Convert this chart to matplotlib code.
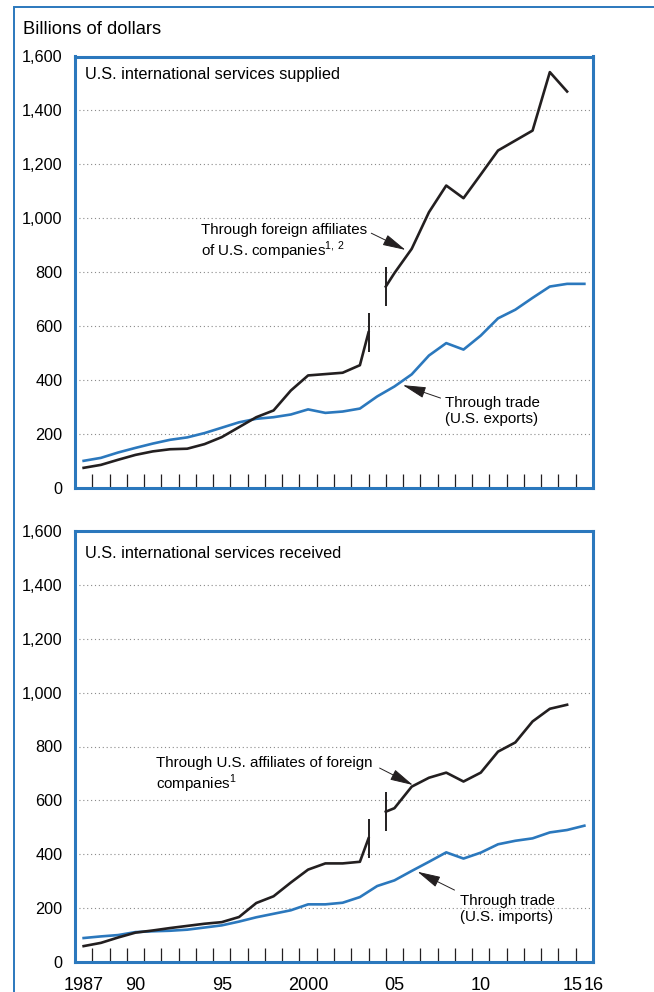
import matplotlib
matplotlib.use("Agg")
import matplotlib.pyplot as plt
import matplotlib.patches as patches
from matplotlib.ticker import FixedLocator, FuncFormatter

plt.rcParams['font.family'] = ['Liberation Sans', 'DejaVu Sans']
plt.rcParams['mathtext.fontset'] = 'custom'
plt.rcParams['mathtext.rm'] = 'Liberation Sans'

BLUE = '#2b78bd'
BLACK = '#231f20'
FS = 11.7      # y tick labels, panel titles
FS_NOTE = 10.9  # line annotations
FS_X = 13      # year labels

# ---- data (billions of dollars) ----
years_trade = list(range(1987, 2017))
mofa_x1 = list(range(1987, 2004)) + [2003.5]
mofa_x2 = [2004.5] + list(range(2005, 2016))

# services supplied
sup_mofa_1 = [73, 84, 103, 121, 134, 142, 144, 161, 187, 224, 261, 286, 360, 416, 421, 426, 454, 576]
sup_mofa_2 = [746, 796, 886, 1022, 1121, 1074, 1162, 1251, 1288, 1325, 1542, 1470]
sup_trade = [99, 110, 130, 147, 163, 177, 186, 202, 222, 242, 255, 261, 271, 290, 277, 282,
             293, 338, 375, 420, 490, 536, 512, 564, 628, 660, 704, 746, 756, 756]

# services received
rec_mofa_1 = [59, 71, 91, 109, 117, 126, 134, 142, 148, 167, 219, 244, 295, 343, 366, 366, 372, 459]
rec_mofa_2 = [558, 571, 651, 684, 703, 670, 703, 781, 815, 893, 940, 955]
rec_trade = [89, 95, 100, 111, 114, 116, 120, 128, 136, 150, 166, 179, 192, 214, 214, 220,
             241, 282, 303, 338, 372, 407, 384, 406, 437, 450, 459, 481, 490, 506]

xlabel_pos = [1987, 1990, 1995, 2000, 2005, 2010, 2015, 2016]
xlabel_txt = ['1987', '90', '95', '2000', '05', '10', '15', '16']
yticks = [0, 200, 400, 600, 800, 1000, 1200, 1400, 1600]

BREAK = 72  # half height of series break marks
# the last two year labels are squeezed apart in the original
label_shift = {2015: 0.3, 2016: 0.55}

fig = plt.figure(figsize=(6.54, 9.92), dpi=100)

# outer frame (runs off right/bottom edge)
fig.patches.append(patches.Rectangle((14 / 654, -0.1), 2, 1 - 7 / 992 + 0.1,
                                     transform=fig.transFigure, fill=False,
                                     edgecolor=BLUE, lw=1.4))
fig.text(23 / 654, 1 - 29 / 992, 'Billions of dollars', fontsize=13.2, va='center', ha='left')

ax1 = fig.add_axes([75 / 654, 1 - 487.5 / 992, 518 / 654, 431 / 992])
ax2 = fig.add_axes([75 / 654, 1 - 962 / 992, 518 / 654, 431 / 992])


def style(ax, show_labels):
    ax.set_xlim(1986.5, 2016.5)
    ax.set_ylim(0, 1600)
    for s in ax.spines.values():
        s.set_color(BLUE)
        s.set_linewidth(2.2)
    ax.yaxis.set_major_locator(FixedLocator(yticks))
    ax.yaxis.set_major_formatter(FuncFormatter(lambda v, p: f'{int(v):,}'))
    ax.tick_params(axis='y', length=0, pad=9, labelsize=FS)
    ax.xaxis.set_minor_locator(FixedLocator([y + 0.5 for y in range(1987, 2016)]))
    ax.set_xticks([])
    if show_labels:
        for p, t in zip(xlabel_pos, xlabel_txt):
            ax.text(p + label_shift.get(p, 0), -0.054, t, transform=ax.get_xaxis_transform(),
                    ha='center', va='center', fontsize=FS_X)
    ax.tick_params(axis='x', which='minor', direction='in', length=10, width=0.9, color=BLACK)
    for v in yticks[1:-1]:
        ax.axhline(v, color='#8a8a8a', lw=0.8, ls=(0, (1, 2.5)), zorder=0)


def draw(ax, m1, m2, trade):
    ax.plot(years_trade, trade, color=BLUE, lw=1.9, zorder=3)
    ax.plot(mofa_x1, m1, color=BLACK, lw=1.9, zorder=3)
    ax.plot(mofa_x2, m2, color=BLACK, lw=1.9, zorder=3)
    ax.vlines([mofa_x1[-1]], m1[-1] - BREAK, m1[-1] + BREAK, color=BLACK, lw=1.4, zorder=3)
    ax.vlines([mofa_x2[0]], m2[0] - BREAK, m2[0] + BREAK, color=BLACK, lw=1.4, zorder=3)


def arrow(ax, tail, tip):
    ax.annotate('', xy=tip, xytext=tail,
                arrowprops=dict(arrowstyle='-|>,head_length=0.9,head_width=0.22',
                                color=BLACK, lw=0.7, shrinkA=0, shrinkB=0,
                                mutation_scale=16))


style(ax1, False)
style(ax2, True)
draw(ax1, sup_mofa_1, sup_mofa_2, sup_trade)
draw(ax2, rec_mofa_1, rec_mofa_2, rec_trade)

ax1.text(0.019, (487.5 - 75) / 431, 'U.S. international services supplied',
         transform=ax1.transAxes, fontsize=FS, va='center')
ax2.text(0.019, (962 - 553) / 431, 'U.S. international services received',
         transform=ax2.transAxes, fontsize=FS, va='center')

ax1.text(1993.8, 909, 'Through foreign affiliates\nof U.S. companies$^{1,\\,2}$',
         fontsize=FS_NOTE, va='center', linespacing=1.2)
arrow(ax1, (2003.66, 944), (2005.64, 882))
ax1.text(2007.9, 284, 'Through trade\n(U.S. exports)', fontsize=FS_NOTE, va='center', linespacing=1.2)
arrow(ax1, (2007.67, 332), (2005.49, 380))

ax2.text(1991.17, 692, 'Through U.S. affiliates of foreign\ncompanies$^{1}$',
         fontsize=FS_NOTE, va='center', linespacing=1.2)
arrow(ax2, (2004.14, 720), (2006.07, 657))
ax2.text(2008.77, 197, 'Through trade\n(U.S. imports)', fontsize=FS_NOTE, va='center', linespacing=1.2)
arrow(ax2, (2008.48, 267), (2006.34, 335))

fig.savefig('out.png', dpi=100)
